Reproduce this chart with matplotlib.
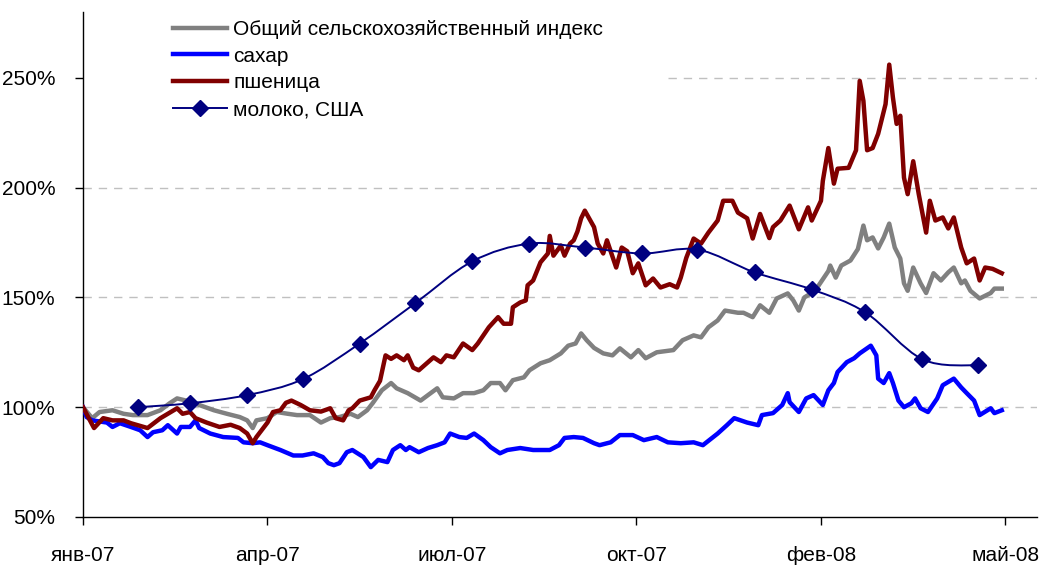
import numpy as np
import matplotlib
matplotlib.use("Agg")
import matplotlib.pyplot as plt
from matplotlib.path import Path
from matplotlib.patches import PathPatch
from matplotlib.lines import Line2D

plt.rcParams['font.family'] = ['Liberation Sans', 'DejaVu Sans']

# x = days since 1 Jan 2007
tick_days = [0, 100, 200, 300, 400, 500]
tick_labels = ['янв-07', 'апр-07', 'июл-07', 'окт-07', 'фев-08', 'май-08']
y_ticks = [50, 100, 150, 200, 250]

labels = ['Общий сельскохозяйственный индекс', 'сахар', 'пшеница', 'молоко, США']

index_days = [0, 5, 9, 16, 22, 27, 35, 42, 47, 51, 56, 63, 71, 78, 85, 89, 92, 94, 100, 105,
              111, 116, 123, 129, 134, 139, 145, 149, 154, 157, 162, 167, 170, 176, 183, 187,
              192, 195, 201, 206, 212, 217, 221, 226, 229, 233, 239, 242, 248, 253, 259, 263,
              267, 270, 273, 277, 282, 287, 291, 297, 301, 305, 311, 320, 325, 331, 335, 339,
              344, 348, 355, 358, 363, 367, 372, 376, 382, 385, 388, 391, 393, 398, 404, 405,
              408, 411, 416, 420, 423, 425, 428, 431, 434, 437, 440, 443, 445, 447, 450, 454,
              457, 461, 465, 469, 472, 476, 478, 481, 486, 492, 494, 498]
index_vals = [100, 95, 97.8, 98.6, 97, 96.4, 96.4, 98.6, 101.8, 104, 103, 101, 98.6, 97, 95.5,
              94, 90.5, 94, 95, 97.8, 97, 96.4, 96.4, 93, 95, 95.5, 97, 95.5, 98.6, 101.8, 107.7,
              111, 108.6, 106.4, 103, 105.5, 108.6, 104.5, 104, 106.4, 106.4, 107.7, 111, 111,
              107.7, 112.3, 113.6, 116.8, 120, 121.4, 124.5, 128, 129, 133.6, 130.5, 127, 124.5,
              123.6, 126.8, 122.7, 126, 122.3, 125, 126, 130.5, 132.7, 131.8, 136.4, 139.5, 144,
              143, 143, 141, 146.4, 143, 149.5, 151.8, 148.6, 144, 150, 151, 154.5, 162, 164.5,
              159, 164.5, 166.8, 172, 182.7, 176, 177.3, 172.3, 177.3, 183.6, 172.7, 167.7, 156.4,
              153, 163.6, 156.4, 152, 161, 157.7, 161.4, 163.6, 156.4, 157.7, 153, 149.5, 152,
              154, 154]

sugar_days = [0, 2, 5, 13, 16, 20, 26, 31, 35, 38, 43, 46, 51, 53, 58, 61, 63, 69, 76, 84,
              87, 92, 96, 100, 107, 114, 119, 125, 130, 133, 136, 139, 143, 146, 152, 156, 160,
              165, 168, 172, 175, 177, 182, 187, 192, 196, 199, 204, 208, 212, 217, 221, 226,
              230, 237, 244, 253, 258, 261, 266, 271, 277, 280, 286, 291, 298, 304, 311, 317,
              324, 331, 336, 344, 349, 353, 360, 366, 368, 374, 379, 382, 383, 388, 392, 396,
              401, 404, 407, 409, 414, 418, 421, 427, 430, 431, 434, 437, 439, 442, 445, 449,
              451, 454, 458, 463, 466, 472, 476, 479, 483, 486, 492, 494, 498]
sugar_vals = [100, 95.5, 94, 93, 91, 92.7, 91, 89.5, 86.4, 88.6, 89.5, 91.8, 88, 91, 91, 94,
              90.5, 88, 86.4, 86, 84, 83.6, 84, 82.7, 80.5, 78, 78, 79, 77.3, 74.5, 73.6, 74.5,
              79.5, 80.5, 77.3, 72.7, 76, 75, 80.5, 82.7, 80.5, 81.8, 79.5, 81.4, 82.7, 84, 88,
              86.4, 86, 88, 85, 81.8, 79, 80.5, 81.4, 80.5, 80.5, 82.7, 86, 86.4, 86, 83.6, 82.7,
              84, 87.3, 87.3, 85, 86.4, 84, 83.6, 84, 82.7, 88, 91.8, 95, 93, 91.8, 96.4, 97.3,
              101, 106.4, 102.3, 97.8, 104, 105.5, 101, 107.7, 111, 116, 120.5, 122.3, 124.5,
              128, 123.6, 113, 111, 115.5, 111, 103, 100, 101.8, 104, 99.5, 97.8, 104, 110, 113,
              109, 106.4, 103, 96.4, 99.5, 97.3, 98.6]

wheat_days = [0, 6, 11, 16, 22, 26, 35, 42, 46, 51, 54, 58, 61, 67, 74, 80, 85, 89, 92, 94,
              100, 103, 107, 110, 113, 118, 123, 129, 134, 137, 141, 144, 146, 150, 156, 158,
              161, 164, 167, 170, 174, 176, 179, 182, 187, 190, 194, 197, 201, 206, 211, 214,
              217, 220, 225, 228, 232, 233, 237, 240, 241, 244, 248, 252, 253, 255, 259, 261,
              264, 266, 268, 270, 272, 275, 277, 279, 282, 284, 289, 292, 295, 298, 301, 305,
              309, 313, 318, 322, 324, 327, 331, 335, 339, 344, 347, 352, 355, 360, 363, 367,
              372, 374, 378, 383, 388, 393, 395, 400, 401, 404, 407, 409, 415, 419, 421, 423,
              425, 428, 431, 435, 437, 439, 441, 443, 445, 447, 450, 453, 457, 459, 462, 466,
              469, 472, 476, 479, 483, 486, 489, 493, 498]
wheat_vals = [100, 90.5, 95, 94, 94, 92.7, 90.5, 95, 97, 99.5, 97, 97.8, 95, 93, 91, 92, 90.5,
              88, 83.6, 86.4, 93, 97.8, 98.6, 102, 103, 101, 98.6, 98, 99.5, 95, 94, 98.6, 99.5,
              103, 104.5, 107.7, 112, 123.6, 122, 123.6, 121.4, 123.6, 118, 116.8, 120.5, 122.7,
              120.5, 123.6, 122.7, 129, 126, 129, 132.7, 136.4, 141, 138, 138, 145.5, 147.7,
              148.6, 155.5, 157.7, 166, 170, 178, 169, 173.6, 169, 174.5, 176, 180, 186, 189.5,
              185, 182, 174.5, 170, 176, 163.6, 172.7, 171, 161, 165.5, 155.5, 158.6, 154.5, 156,
              154.5, 159, 168, 176.8, 174.5, 179.5, 185, 194, 194, 188.6, 186, 176.8, 188, 177,
              182, 185, 191.8, 181, 191, 185, 194, 203, 218, 201.8, 208.6, 209, 217, 248.6,
              239.5, 217, 218, 224.5, 238, 256, 241, 229, 232.7, 204.5, 197, 212, 197, 179.5,
              194, 185, 186.4, 181.4, 186.4, 172.7, 165.5, 167.7, 157.7, 163.6, 163, 161]

milk_days = [30, 58, 89, 119, 150, 180, 211, 242, 272, 303, 333, 364, 395, 424, 455, 485]
milk_vals = [100, 101.8, 105.5, 112.7, 129, 147.3, 166.4, 174.5, 172.7, 170, 171.8, 161.4,
             153.6, 143.2, 121.8, 119]


def smooth_path(xs, ys):
    # Excel-style smoothed line: cubic Bezier segments (Catmull-Rom control points)
    pts = np.column_stack([xs, ys]).astype(float)
    ext = np.vstack([pts[0], pts, pts[-1]])
    verts = [tuple(pts[0])]
    codes = [Path.MOVETO]
    for i in range(len(pts) - 1):
        p0, p1, p2, p3 = ext[i], ext[i + 1], ext[i + 2], ext[i + 3]
        c1 = p1 + (p2 - p0) / 6.0
        c2 = p2 - (p3 - p1) / 6.0
        verts += [tuple(c1), tuple(c2), tuple(p2)]
        codes += [Path.CURVE4] * 3
    return Path(verts, codes)


fig = plt.figure(figsize=(10.41, 5.67), dpi=100)
ax = fig.add_axes([0.0797, 0.0882, 0.9163, 0.8908])

grey = '#808080'
blue = '#0000ff'
red = '#800000'
navy = '#000080'

for v in [100, 150, 200]:
    ax.axhline(v, color='#c0c0c0', lw=1, ls=(0, (6, 5)), zorder=0)
ax.axhline(250, xmin=0.613, color='#c0c0c0', lw=1, ls=(0, (6, 5)), zorder=0)

ax.plot(index_days, index_vals, color=grey, lw=3.2, solid_joinstyle='round', zorder=2)
ax.plot(sugar_days, sugar_vals, color=blue, lw=3.2, solid_joinstyle='round', zorder=3)
ax.plot(wheat_days, wheat_vals, color=red, lw=3.2, solid_joinstyle='round', zorder=4)
ax.add_patch(PathPatch(smooth_path(milk_days, milk_vals), facecolor='none',
                       edgecolor=navy, lw=1.4, zorder=5))
ax.plot(milk_days, milk_vals, ls='none', marker='D', ms=8, color=navy, zorder=6)

ax.set_xlim(0, 517)
ax.set_ylim(50, 280)
ax.set_xticks(tick_days)
ax.set_xticklabels(tick_labels)
ax.set_yticks(y_ticks)
ax.set_yticklabels([f'{v}%' for v in y_ticks])
ax.tick_params(axis='both', direction='out', length=6, width=1, labelsize=15, colors='black')
ax.tick_params(axis='y', pad=14)
ax.tick_params(axis='x', pad=15)
for s in ['top', 'right']:
    ax.spines[s].set_visible(False)
for s in ['left', 'bottom']:
    ax.spines[s].set_linewidth(1)
    ax.spines[s].set_color('black')

handles = [Line2D([], [], color=grey, lw=3.2),
           Line2D([], [], color=blue, lw=3.2),
           Line2D([], [], color=red, lw=3.2),
           Line2D([], [], color=navy, lw=1.4, marker='D', ms=8)]
ax.legend(handles, labels, loc='upper left', bbox_to_anchor=(173 / 1041, 1 - 20 / 567),
          bbox_transform=fig.transFigure, frameon=False, fontsize=15,
          handlelength=2.6, handletextpad=0.3, labelspacing=0.37, borderpad=0,
          borderaxespad=0)

fig.savefig('out.png', dpi=100)
